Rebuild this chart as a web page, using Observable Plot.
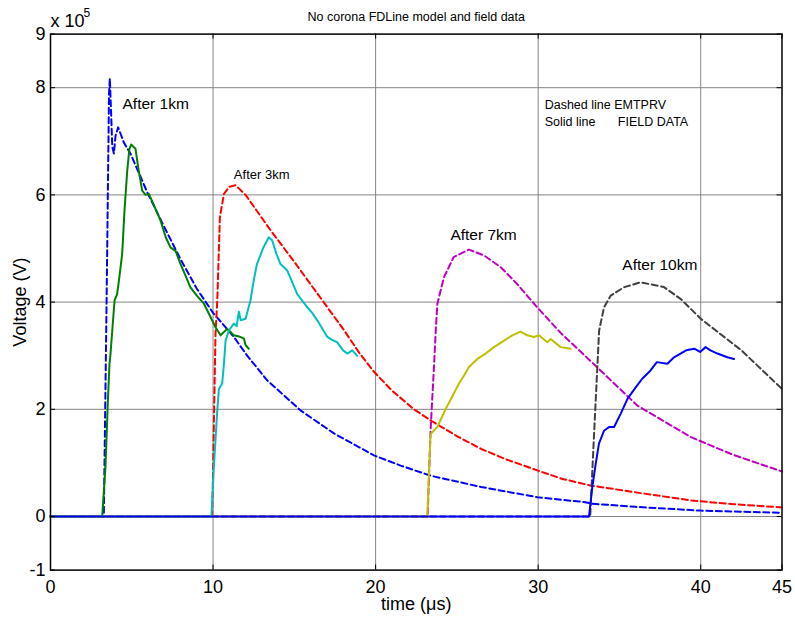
<!DOCTYPE html>
<html><head><meta charset="utf-8">
<script src="https://cdn.jsdelivr.net/npm/d3@7"></script>
<script src="https://cdn.jsdelivr.net/npm/@observablehq/plot@0.6"></script>
<style>body{margin:0;background:#fff;} svg{font-family:"Liberation Sans",Arial,sans-serif;}</style>
</head><body><div id="chart"></div>
<script>
// ---- data (time in µs, voltage in units of 1e5 V) ----
const tModel1 = [0,3.28,3.45,3.6,3.65,3.72,3.8,3.9,4.0,4.16,4.3,4.51,4.92,5.95,7.0,8.0,9.0,10.0,11.28,12.1,13.33,15.38,17.44,19.9,21.54,23.4,26.5,29.95,32.8,33.3,36,40,45];
const vModel1 = [0,0,4.0,7.9,8.17,7.6,6.9,6.77,7.1,7.26,7.15,6.98,6.77,6.05,5.4,4.8,4.25,3.8,3.35,3.0,2.54,1.98,1.55,1.14,0.95,0.76,0.55,0.36,0.27,0.24,0.18,0.11,0.07];
const tModel3 = [0,9.95,10.15,10.26,10.42,10.67,11.0,11.38,12.0,12.7,13.54,15.0,16.8,18.0,19.0,19.9,21.0,22.36,23.4,25,26.5,28,29.95,31.5,33.2,36,39.4,42,45];
const vModel3 = [0,0,3.41,4.03,5.58,6.02,6.15,6.18,6.0,5.7,5.34,4.75,4.0,3.5,3.05,2.7,2.35,2.0,1.79,1.5,1.26,1.07,0.86,0.7,0.58,0.45,0.3,0.23,0.17];
const tModel7 = [0,23.2,23.38,23.6,23.7,23.8,24.2,24.8,25.74,26.67,27.7,28.7,29.95,31.4,32,33.4,36.1,39.4,42,45];
const vModel7 = [0,0,1.6,2.85,3.47,3.97,4.46,4.84,4.98,4.87,4.65,4.34,3.9,3.42,3.25,2.85,2.07,1.48,1.15,0.84];
const tModel10 = [0,33.2,33.4,33.6,33.75,34.05,34.46,35.3,36.3,37.74,38.8,40,42.5,45];
const vModel10 = [0,0,1.29,2.54,3.47,3.9,4.12,4.28,4.37,4.28,4.05,3.69,3.1,2.38];

const tField1 = [0,3.18,3.38,3.53,3.63,3.69,3.8,3.94,4.1,4.25,4.41,4.55,4.72,4.85,4.96,5.1,5.23,5.4,5.64,5.85,6.05,6.3,6.77,7.1,7.38,7.7,8.0,8.3,8.6,9.0,9.44,9.8,10.15,10.46,10.87,11.05,11.28,11.6,11.9,12.0,12.2];
const vField1 = [0,0,0.92,2.16,2.85,3.03,3.47,4.03,4.15,4.5,4.9,5.7,6.45,6.85,6.94,6.9,6.86,6.5,6.08,6.0,6.02,5.85,5.52,5.2,5.02,4.95,4.71,4.5,4.28,4.12,3.97,3.75,3.53,3.38,3.5,3.45,3.38,3.36,3.32,3.2,3.13];
const tField3 = [0,9.9,10.05,10.26,10.36,10.56,10.67,10.77,10.97,11.28,11.45,11.59,11.7,12.0,12.3,12.5,12.7,13.1,13.43,13.64,13.9,14.15,14.56,14.9,15.18,15.8,16.1,16.41,17.03,17.3,17.64,18.0,18.26,18.56,18.87];
const vField3 = [0,0,0.92,1.98,2.38,2.48,2.85,3.28,3.47,3.6,3.55,3.82,3.66,3.69,4.03,4.4,4.71,5.02,5.21,5.15,4.9,4.71,4.59,4.35,4.15,3.9,3.8,3.66,3.35,3.3,3.25,3.1,3.04,3.1,3.0];
const tField7 = [0,23.18,23.38,23.8,24.3,24.7,25.13,25.44,25.74,26.26,26.77,27.28,27.9,28.41,28.92,29.33,29.74,30.05,30.56,30.77,31.38,32.0];
const vField7 = [0,0,1.54,1.67,2.0,2.23,2.48,2.63,2.79,2.94,3.04,3.16,3.28,3.38,3.45,3.38,3.35,3.38,3.25,3.31,3.16,3.13];
const tField10 = [0,33.13,33.33,33.54,33.74,34.05,34.36,34.67,35.08,35.5,36.0,36.4,36.9,37.3,37.95,38.36,39.1,39.6,39.96,40.3,40.6,41.03,41.64,42.05];
const vField10 = [0,0,0.55,0.98,1.36,1.6,1.67,1.67,1.92,2.2,2.41,2.57,2.72,2.88,2.85,2.97,3.1,3.13,3.07,3.16,3.1,3.04,2.97,2.94];

const xTicks = [0,10,20,30,40,45];
const yTicks = [-1,0,2,4,6,8,9];
const xGrid = [10,20,30,40];
const yGrid = [0,2,4,6,8];

const annLabels = ["After 1km","After 3km","After 7km","After 10km"];
const annT = [4.43,11.28,24.6,35.18];
const annV = [7.69,6.38,5.26,4.7];

const titleText = "No corona FDLine model and field data";
const xLabel = "time (\u03bcs)";
const yLabel = "Voltage (V)";
const legend1 = "Dashed line EMTPRV";
const legend2a = "Solid line";
const legend2b = "FIELD DATA";

// ---- build ----
const series = [
  {t:tModel1, v:vModel1, color:"#0000ff", dashed:true},
  {t:tModel3, v:vModel3, color:"#ff0000", dashed:true},
  {t:tModel7, v:vModel7, color:"#bf00bf", dashed:true},
  {t:tModel10, v:vModel10, color:"#404040", dashed:true},
  {t:tField1, v:vField1, color:"#008000", dashed:false},
  {t:tField3, v:vField3, color:"#00bfbf", dashed:false},
  {t:tField7, v:vField7, color:"#bfbf00", dashed:false},
  {t:tField10, v:vField10, color:"#0000ff", dashed:false}
];

const W = 795, H = 618, mL = 50, mR = 13.5, mT = 33.6, mB = 48.4;
const plotH = H - mT - mB, plotW = W - mL - mR;
const tick = 5;

const lineMarks = series.map(s => Plot.line(s.t.map((t,i)=>({t, v:s.v[i]})), {
  x:"t", y:"v", stroke:s.color, strokeWidth:2,
  strokeDasharray: s.dashed ? "6,3.5" : null, strokeLinejoin:"round"
}));

const txt = {fill:"#000", lineAnchor:"middle"};

const chart = Plot.plot({
  width: W, height: H,
  marginLeft: mL, marginRight: mR, marginTop: mT, marginBottom: mB,
  style: {fontFamily:"'Liberation Sans', Arial, sans-serif", background:"#fff", overflow:"visible", color:"#000"},
  x: {domain:[0,45]},
  y: {domain:[-1,9]},
  marks: [
    Plot.gridX(xGrid, {stroke:"#858585", strokeOpacity:1, strokeWidth:1}),
    Plot.gridY(yGrid, {stroke:"#858585", strokeOpacity:1, strokeWidth:1}),
    ...lineMarks,
    Plot.frame({stroke:"#000", strokeWidth:1.5}),
    Plot.tickX(xTicks, {x:d=>d, insetTop: plotH - tick, stroke:"#000"}),
    Plot.tickX(xTicks, {x:d=>d, insetBottom: plotH - tick, stroke:"#000"}),
    Plot.tickY(yTicks, {y:d=>d, insetRight: plotW - tick, stroke:"#000"}),
    Plot.tickY(yTicks, {y:d=>d, insetLeft: plotW - tick, stroke:"#000"}),
    Plot.axisX(xTicks, {tickSize:0, tickPadding:10, fontSize:18, label:null, tickFormat:d=>String(d), fill:"#000"}),
    Plot.axisY(yTicks, {tickSize:0, tickPadding:5, fontSize:18, label:null, tickFormat:d=>String(d), fill:"#000"}),
    Plot.text([xLabel], {...txt, text:d=>d, frameAnchor:"bottom", textAnchor:"middle", dy:34, fontSize:18}),
    Plot.text([yLabel], {...txt, text:d=>d, frameAnchor:"left", textAnchor:"middle", dx:-30, rotate:-90, fontSize:18}),
    Plot.text([titleText], {...txt, text:d=>d, frameAnchor:"top", textAnchor:"middle", dy:-17, fontSize:12.5}),
    Plot.text(["x 10"], {...txt, text:d=>d, frameAnchor:"top-left", textAnchor:"start", dy:-12.6, fontSize:18}),
    Plot.text(["5"], {...txt, text:d=>d, frameAnchor:"top-left", textAnchor:"start", dx:33, dy:-21, fontSize:12}),
    Plot.text(annLabels.filter((d,i)=>i!==1), {...txt, x:(d)=>annT[annLabels.indexOf(d)], y:(d)=>annV[annLabels.indexOf(d)], text:d=>d, textAnchor:"start", fontSize:15.5}),
    Plot.text([annLabels[1]], {...txt, x:()=>annT[1], y:()=>annV[1], text:d=>d, textAnchor:"start", fontSize:13}),
    Plot.text([legend1], {...txt, x:()=>30.4, y:()=>7.68, text:d=>d, textAnchor:"start", fontSize:12.5}),
    Plot.text([legend2a], {...txt, x:()=>30.4, y:()=>7.36, text:d=>d, textAnchor:"start", fontSize:12.5}),
    Plot.text([legend2b], {...txt, x:()=>34.9, y:()=>7.36, text:d=>d, textAnchor:"start", fontSize:12.5})
  ]
});
document.getElementById("chart").appendChild(chart);
</script>
</body></html>
